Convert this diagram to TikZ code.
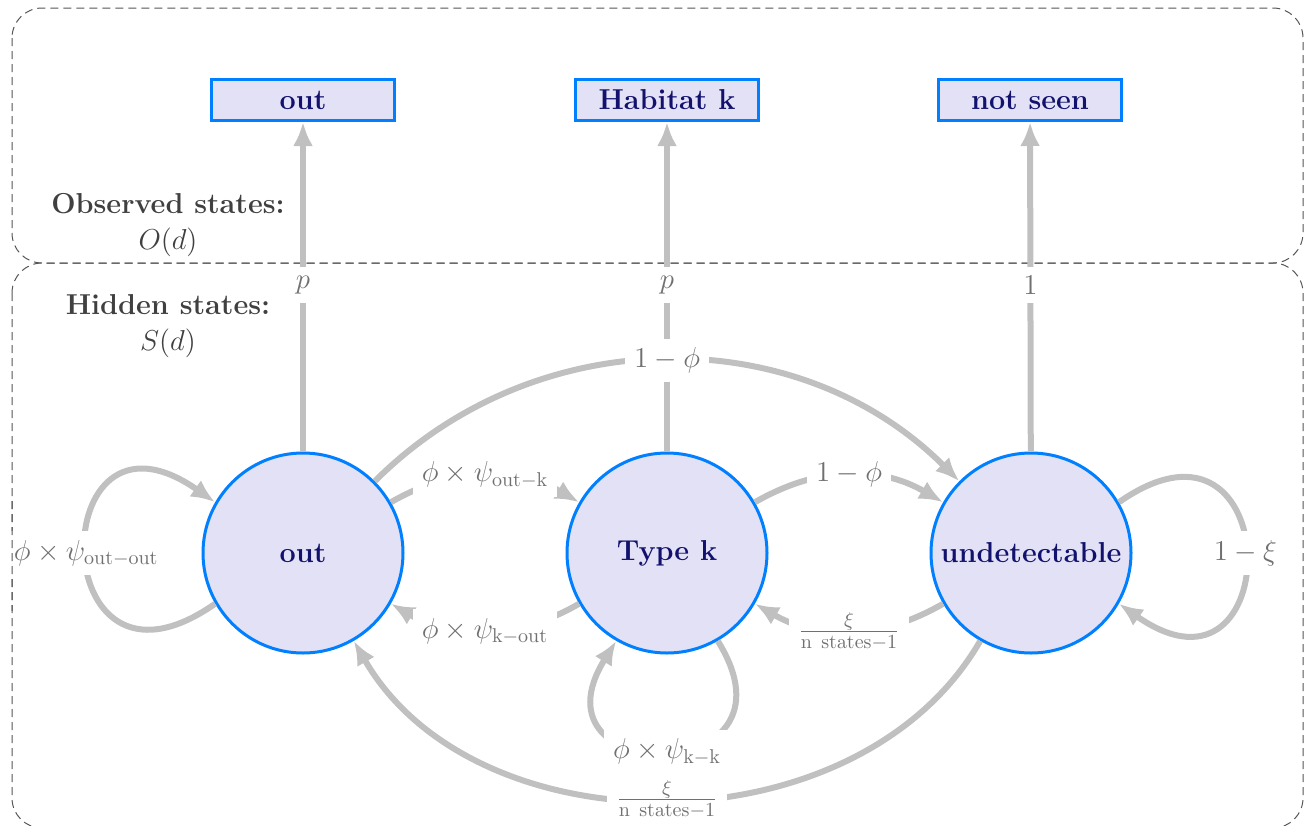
\documentclass[tikz,border=0pt]{standalone}
\usetikzlibrary{arrows.meta}
\definecolor{arrowgray}{RGB}{192,192,192}
\definecolor{nodefill}{RGB}{227,225,245}
\definecolor{nodeblue}{RGB}{0,128,255}
\definecolor{nodetext}{RGB}{18,18,110}
\definecolor{labgray}{RGB}{112,112,112}
\definecolor{boxgray}{RGB}{85,85,85}
\begin{document}
\begin{tikzpicture}[x=0.5pt,y=0.5pt,
  hstate/.style={circle,draw=nodeblue,fill=nodefill,line width=1.5pt,minimum size=100pt,inner sep=0pt,font=\Large\bfseries,text=nodetext},
  ostate/.style={rectangle,draw=nodeblue,fill=nodefill,line width=1.5pt,minimum width=91.5pt,minimum height=20.5pt,inner sep=0pt,font=\Large\bfseries,text=nodetext},
  trans/.style={draw=arrowgray,line width=3pt,-{Latex[length=12pt,width=10pt]}},
  lab/.style={fill=white,text=labgray,font=\Large,inner sep=4.5pt},
  region/.style={draw=boxgray,line width=0.5pt,dash pattern=on 4pt off 2.5pt,rounded corners=15pt},
  heading/.style={text=black!75,font=\Large,align=center}]
\useasboundingbox (0,0) rectangle (1312,-825);

% regions
\draw[region] (12,-8) rectangle (1303,-263);
\draw[region] (12,-263) rectangle (1303,-828);

\node[heading] (obs) at (168,-225) {\textbf{Observed states:}\\$O(d)$};
\node[heading] (hid) at (168,-326) {\textbf{Hidden states:}\\$S(d)$};

% observed states
\node[ostate] (oout) at (303,-100) {out};
\node[ostate] (ohab) at (667,-100) {Habitat k};
\node[ostate] (onot) at (1030,-100) {not seen};

% hidden states
\node[hstate] (sout) at (303,-553) {out};
\node[hstate] (styp) at (667,-553) {Type k};
\node[hstate] (sund) at (1031,-553) {undetectable};

% emissions
\draw[trans] (sout) -- node[lab,pos=0.505] {$p$} (oout);
\draw[trans] (styp) -- node[lab,pos=0.505] {$p$} (ohab);
\draw[trans] (sund) -- node[lab,pos=0.505] {$1$} (onot);

% transitions
\draw[trans] (sout) to[out=45,in=135] node[lab,pos=0.5] {$1-\phi$} (sund);
\draw[trans] (sout) to[bend left=30] node[lab,pos=0.5] {$\phi\times\psi_{\mathrm{out-k}}$} (styp);
\draw[trans] (styp) to[bend left=30] node[lab,pos=0.5] {$\phi\times\psi_{\mathrm{k-out}}$} (sout);
\draw[trans] (styp) to[bend left=30] node[lab,pos=0.5] {$1-\phi$} (sund);
\draw[trans] (sund) to[bend left=30] node[lab,pos=0.5] {$\frac{\xi}{\mathrm{n~states}-1}$} (styp);
\draw[trans] (sund) to[out=240,in=300] node[lab,pos=0.5] {$\frac{\xi}{\mathrm{n~states}-1}$} (sout);

% self loops
\draw[trans] (sout.210) to[out=215,in=145,looseness=5.3] node[lab,pos=0.5] {$\phi\times\psi_{\mathrm{out-out}}$} (sout.150);
\draw[trans] (styp.-60) to[out=-58,in=-122,looseness=4.4] node[lab,pos=0.5] {$\phi\times\psi_{\mathrm{k-k}}$} (styp.-120);
\draw[trans] (sund.30) to[out=35,in=-35,looseness=5.2] node[lab,pos=0.5] {$1-\xi$} (sund.-30);

% left border shows through the loop label
\begin{scope}
  \clip (0,-500) rectangle (30,-610);
  \draw[region] (12,-263) rectangle (1303,-828);
\end{scope}
\end{tikzpicture}
\end{document}
